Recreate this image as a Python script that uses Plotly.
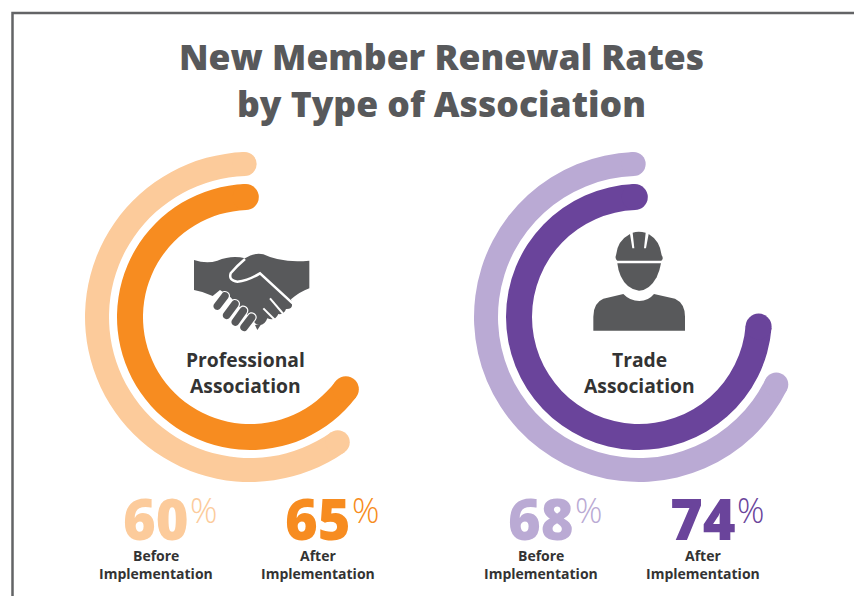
import numpy as np
import plotly.graph_objects as go

W, H = 854, 596
categories = ["Professional\nAssociation", "Trade\nAssociation"]
before_rates = [60, 68]
after_rates = [65, 74]
period_labels = ["Before", "After"]

LIGHT = ["#fccb9b", "#baaad4"]
DARK = ["#f78c20", "#6a449b"]
CENTERS = [(250, 317), (639, 317)]
PLOT_R = 170
OUTER = (141, 165)
INNER = (107, 133)
START = 2
SWEEP_PAD = -3
GREY = "#58595b"
TEXT = "#333333"
FONT = "Open Sans"


def px(x):
    return x / W


def py(y):
    return 1 - y / H


def ring(value, band, color, subplot):
    sweep = value * 3.6 + SWEEP_PAD
    mid = (band[0] + band[1]) / 2
    thick = band[1] - band[0]
    return [
        go.Barpolar(r=[thick], base=[band[0]], theta=[START + sweep / 2], width=[sweep],
                    marker=dict(color=color, line=dict(width=0)), subplot=subplot,
                    hoverinfo="skip", showlegend=False),
        go.Scatterpolar(r=[mid, mid], theta=[START, START + sweep], mode="markers",
                        marker=dict(color=color, size=thick, line=dict(width=0)),
                        subplot=subplot, hoverinfo="skip", showlegend=False),
    ]


fig = go.Figure()
for i, name in enumerate(categories):
    sp = "polar" if i == 0 else "polar2"
    for t in ring(before_rates[i], OUTER, LIGHT[i], sp) + ring(after_rates[i], INNER, DARK[i], sp):
        fig.add_trace(t)

polar_common = dict(
    bgcolor="rgba(0,0,0,0)",
    barmode="overlay",
    radialaxis=dict(visible=False, range=[0, PLOT_R]),
    angularaxis=dict(visible=False, rotation=90, direction="counterclockwise"),
)
polars = {}
for i, (cx, cy) in enumerate(CENTERS):
    key = "polar" if i == 0 else "polar2"
    polars[key] = dict(
        polar_common,
        domain=dict(x=[px(cx - PLOT_R), px(cx + PLOT_R)], y=[py(cy + PLOT_R), py(cy - PLOT_R)]),
    )

annotations = []


def text(x, y, s, size, color, weight=700, anchor="center"):
    annotations.append(dict(
        x=px(x), y=py(y), xref="paper", yref="paper", text=s, showarrow=False,
        xanchor=anchor, yanchor="middle",
        font=dict(family=FONT, size=size, color=color, weight=weight),
    ))


text(441, 56, "New Member Renewal Rates", 35.5, GREY, 800)
text(441, 103, "by Type of Association", 35.5, GREY, 800)

label_y = [359, 385]
label_x = [245, 639]
for i, name in enumerate(categories):
    for line, y in zip(name.split("\n"), label_y):
        text(label_x[i], y, line, 19.3, TEXT, 700)

stat_x = [(155.5, 318), (540.5, 703)]
for i in range(2):
    vals = [before_rates[i], after_rates[i]]
    cols = [LIGHT[i], DARK[i]]
    for j in range(2):
        x = stat_x[i][j]
        text(x + 35, 518, f"{vals[j]}", 56, cols[j], 800, "right")
        text(x + 32, 510, "%", 34, cols[j], 300, "left")
        text(x, 555, period_labels[j], 14, TEXT, 700)
        text(x, 573, "Implementation", 14, TEXT, 700)

shapes = []


def zpath(cmds, ox, oy):
    out = []
    for c in cmds:
        if isinstance(c, str):
            out.append(c)
        else:
            out.append(f"{px(ox + c[0] / 3):.5f},{py(oy + c[1] / 3):.5f}")
    return " ".join(out)


def fill_path(cmds, ox, oy, color=GREY):
    shapes.append(dict(type="path", xref="paper", yref="paper", layer="above",
                       path=zpath(cmds, ox, oy), fillcolor=color, line=dict(width=0)))


def stroke_path(cmds, ox, oy, width, color="white"):
    shapes.append(dict(type="path", xref="paper", yref="paper", layer="above",
                       path=zpath(cmds, ox, oy), line=dict(color=color, width=width)))


def capsule(a, b, r, ox, oy, color=GREY):
    a, b = np.array(a, float), np.array(b, float)
    d = (b - a) / np.linalg.norm(b - a)
    n = np.array([-d[1], d[0]])
    k = 1.33 * r
    p1, p2, p3, p4 = a + n * r, b + n * r, b - n * r, a - n * r
    fill_path(["M", tuple(p1), "L", tuple(p2), "C", tuple(p2 + d * k), tuple(p3 + d * k), tuple(p3),
               "L", tuple(p4), "C", tuple(p4 - d * k), tuple(p1 - d * k), tuple(p1), "Z"], ox, oy, color)


# frame
shapes.append(dict(type="path", xref="paper", yref="paper", layer="below",
                   path=f"M {px(12.5)},{py(H + 5)} L {px(12.5)},{py(13)} L {px(W + 5)},{py(13)}",
                   line=dict(color="#636466", width=2.5)))

# handshake icon
hx, hy = 180, 240
fill_path(["M", (42, 60), "Q", (80, 72), (112, 62), "Q", (155, 45), (195, 55),
           "Q", (225, 36), (250, 43), "Q", (305, 70), (388, 62), "L", (388, 145),
           "Q", (360, 155), (333, 178), "L", (336, 192), "Q", (338, 208), (318, 207),
           "Q", (312, 225), (295, 222), "Q", (285, 245), (262, 235), "Q", (252, 262), (228, 252),
           "L", (150, 170), "L", (120, 150), "L", (98, 168), "Q", (72, 155), (42, 150), "Z"], hx, hy)
stroke_path(["M", (195, 57), "Q", (170, 78), (152, 100), "Q", (145, 122), (172, 125),
             "Q", (205, 122), (240, 100), "L", (338, 190)], hx, hy, 2.5)
stroke_path(["M", (270, 175), "L", (310, 222)], hx, hy, 2)
stroke_path(["M", (250, 205), "L", (285, 240)], hx, hy, 2)
for a, b in [((135, 168), (112, 198)), ((165, 192), (140, 226)),
             ((190, 212), (166, 246)), ((215, 232), (192, 262))]:
    capsule(a, b, 15, hx, hy, "white")
    capsule(a, b, 11.5, hx, hy)
fill_path(["M", (225, 255), "L", (244, 252), "L", (232, 270), "Z"], hx, hy)

# worker icon
wx, wy = 580, 220
fill_path(["M", (112, 122), "Q", (104, 116), (108, 106), "Q", (112, 62), (150, 42),
           "L", (157, 85), "L", (163, 85), "L", (158, 38), "Q", (175, 32), (197, 38),
           "L", (192, 85), "L", (198, 85), "L", (206, 42), "Q", (240, 62), (245, 106),
           "Q", (252, 116), (244, 122), "Z"], wx, wy)
fill_path(["M", (112, 130), "L", (243, 130), "Q", (240, 150), (230, 172),
           "Q", (208, 212), (177, 212), "Q", (140, 208), (122, 168), "Q", (114, 150), (112, 130), "Z"], wx, wy)
fill_path(["M", (40, 332), "L", (40, 290), "Q", (40, 248), (70, 236), "L", (130, 222),
           "Q", (150, 243), (178, 243), "Q", (205, 243), (222, 222), "L", (285, 236),
           "Q", (315, 250), (315, 290), "L", (315, 332), "Z"], wx, wy)

fig.update_layout(
    width=W, height=H, margin=dict(l=0, r=0, t=0, b=0),
    paper_bgcolor="white", plot_bgcolor="white", showlegend=False,
    annotations=annotations, shapes=shapes, **polars,
)
fig.write_html("out.html", config=dict(displayModeBar=False),
               post_script="document.body.style.margin='0';document.documentElement.style.overflow='hidden';")
